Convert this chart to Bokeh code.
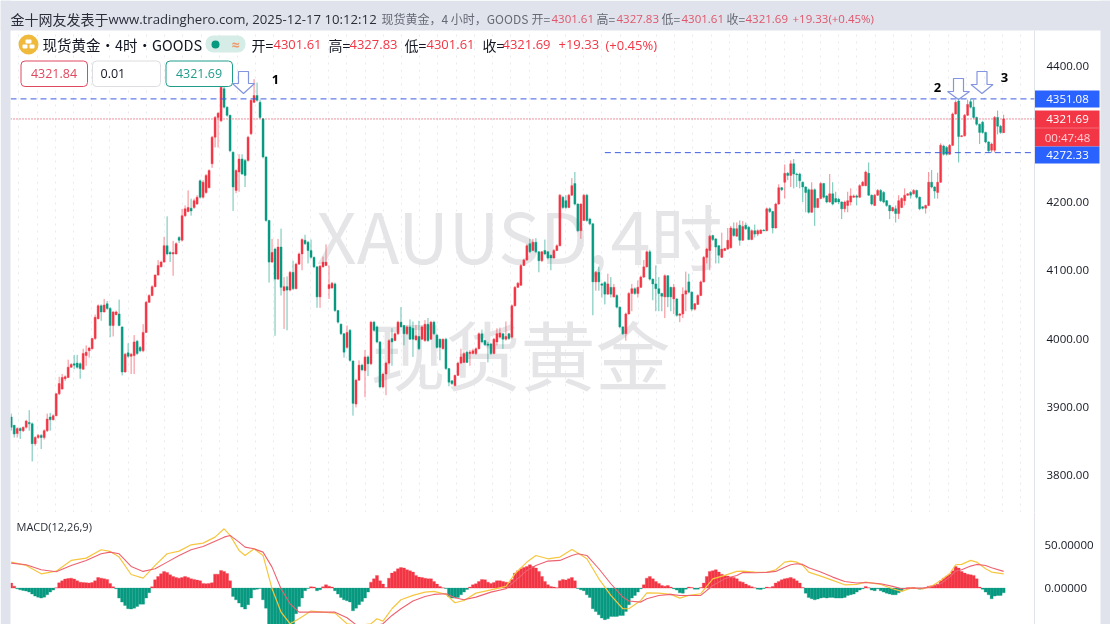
import numpy as np
from bokeh.embed import file_html
from bokeh.resources import INLINE
from bokeh.plotting import figure
from bokeh.layouts import column
from bokeh.models import (ColumnDataSource, Range1d, Label, BoxAnnotation, PolyAnnotation, Span,
                          FixedTicker, NumeralTickFormatter)

# ---- data ----------------------------------------------------------------------
opens = [
 3885,3873,3861,3868,3865,3870,3877,3875,3846,3855,
 3858,3855,3865,3885,3881,3887,3919,3926,3941,3943,
 3958,3963,3964,3963,3955,3975,3982,3985,4000,4029,
 4048,4039,4051,4044,4019,4035,4036,4017,3951,3979,
 3974,3975,3996,3987,3982,4009,4053,4063,4076,4093,
 4105,4112,4136,4126,4124,4124,4148,4144,
 4180,4186,4191,4192,4197,4231,4207,4214,4221,4256,
 4295,4324,4319,4366,4339,4327,4273,4217,4244,4263,
 4261,4261,4300,4346,4356,4346,4322,4266,4173,4112,
 4131,4087,4134,4070,4076,4071,4097,4073,4109,4124,
 4144,4141,4129,4119,4105,4061,4105,4107,4073,4074,
 4080,4041,4021,4007,3987,4012,3967,
 3904,3939,3961,3953,3973,3963,4024,4017,3995,3929,
 3948,3964,4000,3997,4007,4024,4019,4007,4017,4015,
 3998,4003,3999,3997,4021,3999,4024,4005,3999,3985,
 3999,3956,3938,3931,3946,3964,3965,3980,3978,3978,
 3978,3985,4007,3997,3992,3992,3978,3995,4002,4007,
 3999,4007,4002,4048,4075,4078,4107,4115,4139,4129,
 4141,4127,4114,4129,4127,4122,4118,4129,4136,4207,
 4202,4192,4210,4227,4197,4158,4173,4210,4175,4168,
 4083,4097,4080,4082,4065,4075,4061,4063,4046,4017,
 4007,4036,4066,4073,4066,4075,4090,4105,4127,4087,
 4080,4073,4066,4061,4092,
 4075,4058,4058,4034,4036,4065,4083,4068,4043,4050,
 4063,4083,4119,4129,4151,4146,4136,4119,4129,4131,
 4133,4161,4150,4166,4144,4166,4163,4145,4158,4153,
 4154,4159,4158,4190,4186,4162,4197,4221,4229,4242,
 4239,4256,4241,4241,4229,4222,4218,4185,4218,4192,
 4205,4227,4209,4200,4212,4205,4204,4200,4190,4195,
 4200,4207,4209,4207,4224,4224,4242,4210,4195,4210,
 4217,4214,4202,4195,4187,4190,4183,4192,4202,4210,
 4214,4212,4217,4207,4193,4191,4195,4229,4222,4214,
 4229,4282,4280,4270,4283,4329,4348,4296,4297,4327,
 4347,4339,4324,4314,4317,4302,4288,4276,4276,4324,4311,4301.61]
closes = [
 3870,3860,3868,3865,3870,3879,3875,3846,3855,3858,
 3855,3865,3882,3881,3887,3919,3934,3943,3944,3958,
 3962,3961,3958,3956,3978,3980,3986,4000,4031,4048,
 4039,4049,4044,4019,4039,4039,4019,3951,3977,3974,
 3977,3995,3978,3982,4009,4053,4063,4076,4093,4107,
 4112,4136,4124,4124,4126,4139,4144,4180,
 4190,4192,4187,4202,4207,4207,4229,4239,4246,4295,
 4324,4330,4368,4339,4327,4275,4222,4246,4263,4241,
 4239,4295,4349,4356,4349,4324,4266,4173,4112,4126,
 4087,4134,4075,4076,4071,4097,4073,4109,4124,4145,
 4139,4129,4119,4105,4061,4106,4112,4112,4079,4081,
 4041,4024,4007,3980,4009,3968,3905,
 3939,3961,3954,3973,3963,4024,4012,3995,3929,3948,
 3964,3997,3995,4007,4024,4017,4007,4017,3999,3999,
 4004,3985,4017,4021,3997,4024,4007,3987,3987,3999,
 3956,3936,3934,3946,3964,3973,3978,3965,3980,3982,
 3985,4007,3995,3991,3990,3978,3999,4007,4008,3999,
 4003,4000,4048,4075,4081,4107,4115,4136,4127,4141,
 4127,4114,4127,4124,4118,4118,4129,4136,4210,4192,
 4192,4210,4224,4197,4158,4197,4210,4173,4168,4083,
 4097,4083,4078,4065,4080,4065,4075,4046,4017,4007,
 4036,4066,4073,4066,4075,4090,4105,4127,4087,4080,
 4073,4066,4062,4092,4061,
 4061,4075,4034,4036,4065,4070,4068,4043,4051,4063,
 4083,4119,4131,4150,4145,4134,4122,4131,4132,4144,
 4162,4151,4161,4144,4164,4161,4145,4158,4153,4158,
 4159,4158,4190,4186,4162,4197,4221,4218,4242,4239,
 4256,4241,4240,4231,4222,4214,4185,4218,4192,4205,
 4227,4207,4200,4212,4197,4200,4200,4190,4200,4202,
 4209,4209,4207,4224,4229,4244,4210,4197,4210,4217,
 4202,4200,4195,4187,4192,4183,4202,4205,4210,4212,
 4210,4217,4207,4190,4191,4195,4229,4222,4216,4229,
 4283,4270,4270,4283,4329,4346,4296,4297,4327,4343,
 4339,4324,4314,4302,4302,4288,4275,4285,4324,4311,4302,4321.69]
highs = [
 3890,3873,3870,3870,3871,3881,3895,3877,3857,3860,
 3860,3867,3890,3891,3889,3920,3944,3948,3946,3969,
 3964,3976,3976,3965,3985,3990,3988,4001,4035,4050,
 4050,4058,4055,4046,4040,4041,4057,4018,3979,3993,
 3979,4005,3998,3989,4021,4055,4065,4078,4094,4115,
 4114,4149,4179,4128,4143,4141,4150,4190,
 4195,4217,4205,4205,4210,4233,4232,4241,4248,4297,
 4326,4332,4381,4381,4340,4328,4274,4248,4270,4270,
 4263,4297,4350,4380,4375,4350,4323,4267,4174,4146,
 4133,4146,4161,4090,4091,4099,4114,4111,4126,4147,
 4152,4143,4145,4120,4106,4108,4120,4138,4107,4083,
 4082,4042,4022,4008,4019,4014,3968,
 3941,3968,3963,3983,3975,4026,4026,4019,3996,3950,
 3966,3999,4015,4009,4026,4046,4020,4019,4028,4025,
 4020,4026,4019,4027,4030,4026,4026,4007,4000,4000,
 4001,3957,3939,3947,3966,3985,3981,3982,3983,3985,
 3987,4009,4013,3998,3995,3993,4001,4015,4016,4008,
 4025,4008,4050,4077,4083,4109,4117,4138,4146,4146,
 4147,4128,4128,4145,4128,4123,4131,4138,4212,4209,
 4210,4212,4235,4244,4198,4198,4212,4212,4177,4169,
 4099,4105,4082,4084,4095,4090,4080,4065,4047,4018,
 4038,4068,4080,4075,4085,4092,4115,4129,4130,4088,
 4107,4090,4067,4094,4093,
 4076,4080,4059,4037,4075,4098,4095,4069,4052,4065,
 4085,4121,4133,4152,4152,4147,4137,4155,4133,4162,
 4165,4170,4170,4173,4172,4170,4165,4160,4167,4160,
 4160,4160,4192,4192,4187,4199,4226,4222,4255,4244,
 4261,4263,4243,4243,4230,4223,4220,4229,4220,4206,
 4229,4228,4210,4241,4229,4215,4206,4201,4202,4215,
 4220,4211,4211,4226,4231,4246,4258,4211,4212,4219,
 4219,4216,4203,4196,4193,4195,4210,4207,4220,4213,
 4216,4219,4218,4208,4194,4196,4244,4247,4223,4243,
 4286,4284,4282,4285,4331,4349,4352,4298,4329,4350,
 4351,4350,4325,4315,4319,4303,4289,4287,4326,4334,4313,4327.83]
lows = [
 3865,3855,3855,3853,3863,3868,3865,3820,3843,3853,
 3838,3852,3863,3865,3880,3886,3917,3925,3938,3942,
 3957,3955,3956,3941,3954,3960,3972,3984,3998,4028,
 4026,4038,4042,4002,4003,4034,4018,3946,3950,3972,
 3948,3948,3976,3980,3980,4008,4052,4062,4075,4092,
 4104,4111,4122,4112,4092,4123,4140,4142,
 4178,4185,4180,4190,4196,4205,4205,4212,4220,4250,
 4280,4280,4317,4337,4325,4273,4187,4213,4215,4240,
 4222,4259,4298,4345,4347,4322,4264,4171,4082,4111,
 4004,4086,4063,4014,4012,4069,4071,4072,4108,4100,
 4137,4110,4117,4103,4045,4045,4104,4106,4058,4073,
 4039,4022,4005,3972,3985,3966,3887,
 3899,3938,3952,3914,3945,3961,4010,3993,3927,3927,
 3917,3962,3960,3996,4005,4016,3990,4005,3998,3973,
 3997,3983,3998,3995,3995,3998,4005,3985,3968,3984,
 3954,3930,3932,3930,3945,3963,3964,3964,3960,3977,
 3976,3984,3993,3989,3965,3976,3977,3990,4000,3985,
 3997,3998,4000,4047,4074,4077,4106,4114,4125,4128,
 4125,4097,4112,4122,4116,4100,4117,4128,4135,4190,
 4190,4191,4209,4195,4156,4146,4172,4171,4166,4034,
 4070,4070,4060,4050,4064,4060,4060,4044,4015,4005,
 3997,4035,4040,4064,4060,4074,4089,4104,4085,4056,
 4040,4040,4040,4030,4046,
 4040,4036,4032,4024,4030,4040,4066,4040,4041,4049,
 4062,4082,4110,4100,4143,4110,4110,4118,4128,4130,
 4132,4149,4149,4136,4143,4159,4144,4144,4148,4150,
 4153,4157,4157,4184,4154,4161,4196,4216,4205,4232,
 4222,4220,4222,4220,4200,4185,4183,4184,4165,4191,
 4204,4205,4198,4199,4195,4199,4197,4175,4185,4185,
 4195,4206,4195,4206,4223,4223,4209,4195,4194,4209,
 4200,4198,4193,4175,4186,4170,4175,4191,4195,4209,
 4205,4211,4205,4188,4189,4183,4194,4220,4205,4205,
 4228,4268,4268,4269,4282,4328,4258,4295,4296,4326,
 4337,4322,4312,4285,4300,4286,4272,4272,4273,4299,4300,4301.61]

macd_hist = [
 5.9,2.3,-.8,-2,-2.7,-3.5,-4.7,-7,-9.4,-10.6,-11.7,-10.6,-7.8,-4.7,-2.3,.4,
 6.3,8.6,10.6,11.3,11.7,10.6,8.6,7,6.6,6.3,5.9,6.6,8.6,12.5,11.7,10.9,10.2,5.5,1.6,-.8,
 -11.7,-16.4,-20.3,-24.2,-24.6,-23.5,-21.5,-18.8,-18.8,-11.7,-5.5,1.6,
 9.8,13.7,16.8,19.6,18.4,15.6,13.7,12.5,11.7,12.5,13.7,12.5,10.9,10.2,9.4,8.6,5.5,5.1,5.5,6.3,
 16.4,16.4,20.7,19.6,17.2,8.6,
 -9.8,-13.7,-17.6,-22.3,-24.6,-19.6,-11.7,-2,-1.2,-.4,
 -13.7,-23.5,-48,-50,-52,-53,-52,-50,-48,-45,-43,-30,-21.5,-11.7,-3.1,-.4,1.6,1.2,-3.1,-2,
 1.6,3.9,2.3,1.2,-3.1,-7,-10.9,-13.7,-14.9,-16.4,-26.6,-23.5,-19.6,-15.6,-11.7,-4.7,
 7,10.9,14.9,8.6,4.7,.8,11.7,17.6,19.6,22.7,24.2,23.5,21.5,20.3,18.8,14.9,12.9,12.5,11.7,10.9,10.9,7.8,4.7,2,.4,
 -.4,-9.8,-11.7,-11.7,-10.9,-7.8,-4.7,-1.6,
 1.2,3.9,5.1,7.8,10.2,9.8,7,5.5,6.6,8.6,8.6,7.8,7,6.3,10.2,17.6,20.3,22.7,24.2,25.4,27.4,25.4,23.5,19.6,13.7,7.8,3.9,2,1.2,.4,8.6,10.2,9.4,10.9,12.5,8.6,
 -.4,-2,-3.1,-7.8,-10.9,-24.2,-27.4,-31.3,-35.2,-37.1,-36,-33.2,-33.2,-33.2,-32.1,-32.1,-27.4,-19.6,-11.7,-8.6,-4.7,-.8,
 3.9,11.7,13.7,10.9,7.8,5.5,3.1,2.3,3.1,1.2,-.8,-2.3,-5.5,-5.9,-1.2,1.2,.8,-1.2,-1.2,.8,5.9,13.7,19.6,20.3,21.5,18.8,16.4,14.9,14.1,12.9,12.5,10.9,
 7.8,7,4.7,3.1,1.6,.4,-1.2,-1.6,-.4,1.2,.8,2,5.9,7.8,9.8,10.9,11.7,12.5,10.9,8.6,5.9,.8,
 -5.9,-10.9,-12.5,-13.7,-12.9,-11.7,-10.9,-11.7,-10.9,-10.9,-11.7,-11.7,-11.7,-10.9,-8.6,-7.8,-7,-4.7,-2.3,-.8,2,.4,-2.3,-3.1,-.8,-3.1,-4.7,-5.9,-7,-7.8,-7.8,-5.5,-3.1,-.8,
 .4,.4,.8,-.4,-1.2,-.8,.4,2.3,2.7,3.5,4.7,8.6,11.7,14.1,16.4,20.3,25.4,23.5,19.6,17.6,16.4,15.6,14.9,10.9,1.2,-1.2,-4.7,-7.8,-12.5,-9.4,-8.6,-8.6,-5.5]

macd_idx = [0,5,10,15,20,25,30,33,36,40,44,48,52,56,60,64,68,71,73,76,78,81,84,87,90,93,96,100,104,108,112,116,
 120,122,124,127,130,134,138,141,145,148,151,155,160,165,168,172,175,179,183,187,189,192,196,200,204,206,210,212,216,
 220,223,226,230,234,238,242,244,248,252,255,258,260,262,264,266,270,274,278,282,285,290,294,297,300,304,307,310,313,
 315,317,320,322,325,327,331]
macd_dif = [30.5,26.6,16.8,19.9,32.5,35.2,45,43,36.4,16,11.7,26.6,40.3,43.4,50.8,52.8,59.8,69.6,61.8,44.2,38.3,46.1,38.3,-.8,-28.2,-41.8,-36,-27,-28.2,-29.3,-41.8,-43.8,
 -41.8,-36,-38.7,-24.2,-13.7,-8.6,-4.7,-3.9,-7.4,-17.2,-14.5,-5.9,-2,2,16.8,30.5,38.3,34.4,36.4,45.4,41.1,34.4,10.9,-8.6,-24.2,-24.2,-14.5,-5.5,-5.9,
 -7.4,-11.7,-8.6,-6.6,10.9,14.9,19.6,19.9,18.8,18.4,21.5,30.5,31.7,30.5,26.6,18.8,14.1,9,3.9,4.3,7,4.3,-.8,-3.9,0,-.8,2.3,9,16.8,
 27.4,27.8,32.5,30.5,22.7,18.8,16.8]
macd_dea = [29.3,27.4,21.5,19.2,26.6,32.5,40.3,42.2,40.3,25.4,19.6,22.7,30.5,38.3,45,48.9,55.1,59.8,61.8,54,48.1,46.1,42.2,24.6,-.8,-18.4,-28.2,-28.2,-28.2,-28.2,-34.8,-45.7,
 -45.7,-43.8,-41.8,-32.1,-24.2,-15.2,-9.8,-7.4,-6.6,-11.3,-13.7,-10.6,-4.7,-.8,8.2,20.7,26.6,31.7,32.5,38.3,40.3,38.3,22.7,5.1,-10.6,-15.2,-16.4,-12.5,-8.6,
 -7.4,-8.6,-8.6,-8.6,3.1,10.9,14.9,18.4,18,18.4,19.6,24.6,27.4,28.5,27.8,23.9,18.8,12.9,7.8,5.9,6.6,5.1,2,-.8,0,0,1.6,5.1,12.9,
 19.9,21.5,25.8,27.8,26.6,23.9,19.6]

price_ticks = [3800, 3900, 4000, 4100, 4200, 4300, 4400]
macd_ticks = [0, 50]
resistance_level = 4351.08
support_level = 4272.33
support_from_bar = 198
last_close = closes[-1]

UP, DOWN = "#f23645", "#089981"
GREY = "#e0e3eb"
FONT = "Open Sans"
CJK = "Noto Sans CJK SC"

# ---- price pane ---------------------------------------------------------------
W = 1110
x_range = Range1d(-0.233, 341.3)
p1 = figure(width=W, height=512, x_range=x_range, y_range=Range1d(3745.1, 4451.3),
            output_backend="svg", toolbar_location=None, y_axis_location="right",
            min_border_left=10, min_border_right=76, min_border_top=30, min_border_bottom=0,
            background_fill_color="white", border_fill_color="white", outline_line_color=None)
p1.xaxis.visible = False
p1.ygrid.visible = False
grid_ticks = list((18.3 + 18.22 * np.arange(0, 56) - 10.7) / 2.998)
p1.xgrid.ticker = FixedTicker(ticks=grid_ticks)
p1.xgrid.grid_line_color = "#e9eaef"
p1.xgrid.grid_line_dash = "2 5"
ax = p1.yaxis[0]
ax.ticker = FixedTicker(ticks=price_ticks)
ax.formatter = NumeralTickFormatter(format="0.00")
ax.major_tick_line_color = None
ax.minor_tick_line_color = None
ax.axis_line_color = "#e0e3eb"
ax.major_label_text_font = FONT
ax.major_label_text_font_size = "11.5px"
ax.major_label_text_color = "#131722"
ax.major_label_standoff = 6


def txt(p, x, y, text, color="#131722", size=12, font=FONT, align="left", weight="normal", level="overlay", alpha=1.0):
    p.add_layout(Label(x=x, y=y, x_units="canvas", y_units="canvas", text=text, text_color=color,
                       text_font_size=f"{size}px", text_font=font, text_align=align, text_baseline="middle",
                       text_font_style=weight, text_alpha=alpha, level=level))


def box(p, l, t, r, b, fill, line=None, radius=0, level="overlay"):
    p.add_layout(BoxAnnotation(left=l, right=r, top=t, bottom=b, left_units="canvas", right_units="canvas",
                               top_units="canvas", bottom_units="canvas", fill_color=fill, fill_alpha=1,
                               line_color=line, line_alpha=1, border_radius=radius, level=level))


# watermark
txt(p1, 316, 233, "XAUUSD,", "#e5e5e8", 70, CJK, level="underlay")
txt(p1, 610, 233, "4时", "#e5e5e8", 72, CJK, level="underlay")
txt(p1, 370, 352, "现货黄金", "#e5e5e8", 75, CJK, level="underlay")

idx = list(range(len(closes)))
cols = [UP if c >= o else DOWN for o, c in zip(opens, closes)]
src = ColumnDataSource(dict(x=idx, o=opens, c=closes, h=highs, l=lows, color=cols,
                            top=[max(a, b) for a, b in zip(opens, closes)],
                            bot=[min(a, b) for a, b in zip(opens, closes)]))
p1.segment("x", "h", "x", "l", source=src, line_color="color", line_width=1, line_alpha=0.6)
p1.vbar("x", width=0.68, top="top", bottom="bot", source=src, fill_color="color", line_color="color", line_width=0.4)

p1.add_layout(Span(location=resistance_level, dimension="width", line_color="#3f5de0", line_dash="6 4", line_width=1))
p1.segment([support_from_bar], [support_level], [x_range.end], [support_level],
           line_color="#3f5de0", line_dash="6 4", line_width=1)
p1.add_layout(Span(location=last_close, dimension="width", line_color="#d9243c", line_dash="1 2", line_width=1))

# arrows
for tx, ty, tt, hw, sw, sh in [(243, 93, 71, 11, 5, 83), (958, 99, 78, 11, 5, 91), (981.5, 93, 71, 11, 5, 84)]:
    p1.add_layout(PolyAnnotation(xs=[tx - sw, tx + sw, tx + sw, tx + hw, tx, tx - hw, tx - sw],
                                 ys=[tt, tt, sh, sh, ty, sh, sh], xs_units="canvas", ys_units="canvas",
                                 fill_alpha=0, line_color="#8395e0", line_width=1.2, line_alpha=1))
txt(p1, 275, 79, "1", "#000000", 13, FONT, "center", "bold")
txt(p1, 937, 87, "2", "#000000", 13, FONT, "center", "bold")
txt(p1, 1004, 77, "3", "#000000", 13, FONT, "center", "bold")

# legend line
box(p1, 18, 34, 38, 54, "#efb93c", radius=10)
box(p1, 25, 39, 31, 43, "#ffffff", radius=1)
box(p1, 22, 44, 27, 48, "#ffffff", radius=1)
box(p1, 29, 44, 34, 48, "#ffffff", radius=1)
txt(p1, 42, 44, "现货黄金・4时・GOODS", "#131722", 14.5, CJK)
box(p1, 205, 35, 245, 52, "#d6ece7", radius=8)
box(p1, 211, 40, 219, 48, "#089981", radius=4)
txt(p1, 235, 44, "≈", "#ee9a6c", 14, FONT, "center", "bold")
for x, s, c in [(251, "开=", "#131722"), (273, "4301.61", UP), (328, "高=", "#131722"), (349, "4327.83", UP),
                (404, "低=", "#131722"), (426, "4301.61", UP), (482, "收=", "#131722"), (502, "4321.69", UP),
                (558, "+19.33", UP), (605, "(+0.45%)", UP)]:
    txt(p1, x, 44, s, c, 13 if c == UP else 14, FONT if c == UP else CJK)

# order boxes
box(p1, 20.5, 60.5, 87, 86, "#ffffff", "#e0485e", 4)
txt(p1, 53.5, 73, "4321.84", "#e0485e", 12.5, FONT, "center")
box(p1, 92, 60.5, 160, 86, "#ffffff", "#dcdde2", 4)
txt(p1, 100, 73, "0.01", "#131722", 12.5, FONT)
box(p1, 165.5, 60.5, 232, 86, "#ffffff", "#1f9d8b", 4)
txt(p1, 198.5, 73, "4321.69", "#1f9d8b", 12.5, FONT, "center")

# ---- MACD pane ----------------------------------------------------------------
p2 = figure(width=W, height=112, x_range=x_range, y_range=Range1d(-42.7, 88.7),
            output_backend="svg", toolbar_location=None, y_axis_location="right",
            min_border_left=10, min_border_right=76, min_border_top=0, min_border_bottom=0,
            background_fill_color="white", border_fill_color="white", outline_line_color=None)
p2.xaxis.visible = False
p2.grid.visible = False
ax2 = p2.yaxis[0]
ax2.ticker = FixedTicker(ticks=macd_ticks)
ax2.formatter = NumeralTickFormatter(format="0.00000")
ax2.major_tick_line_color = None
ax2.minor_tick_line_color = None
ax2.axis_line_color = "#e0e3eb"
ax2.major_label_text_font = FONT
ax2.major_label_text_font_size = "11.5px"
ax2.major_label_text_color = "#131722"
ax2.major_label_standoff = 4
hist_idx = list(range(len(macd_hist)))
hist_col = [UP if v >= 0 else DOWN for v in macd_hist]
p2.vbar(hist_idx, width=1.0, top=macd_hist, bottom=0, fill_color=hist_col, line_color=hist_col, line_width=0.3)
p2.line(macd_idx, macd_dif, line_color="#f7c63f", line_width=1.2)
p2.line(macd_idx, macd_dea, line_color="#ee6270", line_width=1.1)
txt(p2, 16, 14, "MACD(12,26,9)", "#2a2e39", 11, FONT)

# ---- page chrome, laid over both panes ----------------------------------------
chrome = figure(width=W, height=624, x_range=Range1d(0, W), y_range=Range1d(624, 0),
                output_backend="svg", toolbar_location=None, min_border=0, outline_line_color=None,
                background_fill_color=None, border_fill_color=None, x_axis_location=None, y_axis_location=None,
                styles={"position": "fixed", "left": "0px", "top": "0px", "pointer-events": "none"})
chrome.grid.visible = False
box(chrome, 0, 0, W, 30, GREY)
box(chrome, 0, 0, 10, 624, GREY)
box(chrome, 1100, 0, W, 624, GREY)

HR = "#e0556b"
txt(chrome, 10, 18, "金十网友发表于", "#2a2e39", 14, CJK)
txt(chrome, 108, 18, "www.tradinghero.com, 2025-12-17 10:12:12", "#2a2e39", 13.2, FONT)
txt(chrome, 381, 18, "现货黄金，4 小时，GOODS", "#666a75", 12, CJK)
for x, s, c in [(531, "开=", "#666a75"), (551, "4301.61", HR), (596, "高=", "#666a75"), (616, "4327.83", HR),
                (661, "低=", "#666a75"), (681, "4301.61", HR), (726, "收=", "#666a75"), (745, "4321.69", HR),
                (792, "+19.33(+0.45%)", HR)]:
    txt(chrome, x, 18, s, c, 11.5 if c == HR else 12, FONT if c == HR else CJK)

box(chrome, 1034.5, 90, 1099, 107, "#2962ff")
txt(chrome, 1067, 98.5, "4351.08", "#ffffff", 11.5, FONT, "center")
box(chrome, 1034.5, 110, 1099, 146, UP)
box(chrome, 1034.5, 127, 1099, 128, "#f6697a")
txt(chrome, 1067, 118.5, "4321.69", "#ffffff", 11.5, FONT, "center")
txt(chrome, 1067, 136.5, "00:47:48", "#ffd0d5", 11.5, FONT, "center")
box(chrome, 1034.5, 146, 1099, 163, "#2962ff")
txt(chrome, 1067, 154.5, "4272.33", "#ffffff", 11.5, FONT, "center")

root = column(p1, p2, spacing=0, styles={"position": "fixed", "left": "0px", "top": "0px"})
open("out.html", "w").write(file_html([root, chrome], INLINE))
